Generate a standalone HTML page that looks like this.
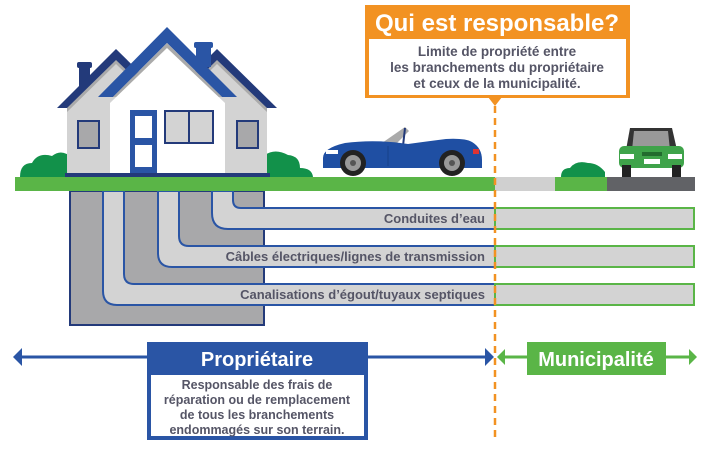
<!DOCTYPE html>
<html><head><meta charset="utf-8"><style>
html,body{margin:0;padding:0;background:#fff}
svg{display:block}
text{font-family:"Liberation Sans",sans-serif;font-weight:bold}
</style></head><body>
<svg width="710" height="450" viewBox="0 0 710 450" xmlns="http://www.w3.org/2000/svg">
<rect x="70" y="191" width="194" height="134" fill="#a8a8aa" stroke="#233a7a" stroke-width="2"/>
<g fill="#d3d3d3" stroke="#2a55a5" stroke-width="2">
<path d="M233 191 V200 Q233 208 241 208 H495 V229 H228 Q212 229 212 213 V191 Z"/>
<path d="M179 191 V236 Q179 246 189 246 H495 V267 H172 Q158 267 158 253 V191 Z"/>
<path d="M124 191 V274 Q124 284 134 284 H495 V305 H117 Q103 305 103 291 V191 Z"/>
</g>
<g fill="#d3d3d3" stroke="#5ab547" stroke-width="2">
<rect x="495" y="208" width="199" height="21"/>
<rect x="495" y="246" width="199" height="21"/>
<rect x="495" y="284" width="199" height="21"/>
</g>
<g fill="#555566" font-size="13" text-anchor="end">
<text x="485" y="223">Conduites d’eau</text>
<text x="485" y="261">Câbles électriques/lignes de transmission</text>
<text x="485" y="299">Canalisations d’égout/tuyaux septiques</text>
</g>
<rect x="15" y="177" width="480" height="14" fill="#5ab547"/>
<rect x="495" y="177" width="60" height="14" fill="#d0d0d0"/>
<rect x="555" y="177" width="52" height="14" fill="#5ab547"/>
<rect x="607" y="177" width="88" height="14" fill="#616266"/>
<g fill="#12914a">
<path d="M20 177 Q20 163 32 163 Q38 152 52 156 Q62 148 72 158 L72 177 Z"/>
<path d="M265 177 V155 Q275 148 288 155 Q300 156 300 168 Q312 168 313 177 Z"/>
<path d="M561 177 Q561 168 570 168 Q576 160 588 163 Q598 163 605 172 V177 Z"/>
</g>
<!-- house -->
<rect x="79" y="62" width="11" height="30" fill="#233a7a"/><rect x="77" y="62" width="15" height="6" rx="2" fill="#233a7a"/>
<polygon points="57,108 116,49 176,108" fill="#233a7a"/>
<polygon points="158,108 217,49 277,108" fill="#233a7a"/>
<polygon points="67,108 116,60 166,108 166,175 67,175" fill="#aaaaaa"/>
<polygon points="67,112 116,64 166,112 166,175 67,175" fill="#d3d3d3"/>
<polygon points="168,108 217,60 267,108 267,175 168,175" fill="#aaaaaa"/>
<polygon points="168,112 217,64 267,112 267,175 168,175" fill="#d3d3d3"/>
<rect x="196" y="42" width="15" height="25" fill="#2a55a5"/><rect x="194" y="42" width="19" height="6" rx="2" fill="#2a55a5"/>
<polygon points="98,97 167,27 237,97 222,97 167,43 113,97" fill="#2a55a5"/>
<polygon points="113,97 167,43 222,97" fill="#aaaaaa"/>
<polygon points="110,103 167,48 225,103 225,175 110,175" fill="#fff"/>
<rect x="65" y="173" width="205" height="4" fill="#233a7a"/>
<rect x="130" y="110" width="27" height="63" fill="#2a55a5"/>
<rect x="135" y="116" width="17" height="22" fill="#fff"/><rect x="135" y="145" width="17" height="22" fill="#fff"/>
<rect x="165" y="111" width="48" height="32" fill="#d3d3d3" stroke="#233a7a" stroke-width="2"/>
<line x1="189" y1="111" x2="189" y2="143" stroke="#233a7a" stroke-width="2"/>
<rect x="78" y="121" width="21" height="27" fill="#a8a8aa" stroke="#233a7a" stroke-width="2"/>
<rect x="237" y="121" width="21" height="27" fill="#a8a8aa" stroke="#233a7a" stroke-width="2"/>
<!-- blue car -->
<polygon points="382,143 405,127 409,131 395,145" fill="#aaaaaa"/>
<line x1="405" y1="128" x2="403" y2="146" stroke="#233a7a" stroke-width="2"/>
<path d="M323 158 Q323 148 345 143 Q375 139 408 144 Q430 141 446 139 Q465 138 472 142 Q482 148 482 160 L482 168 H323 Z" fill="#1f4fa3"/>
<line x1="388" y1="146" x2="388" y2="166" stroke="#17408a" stroke-width="1"/>
<rect x="326" y="150" width="12" height="4" fill="#fff"/>
<rect x="473" y="149" width="6" height="5" fill="#d33"/>
<g><circle cx="353" cy="163" r="13" fill="#222"/><circle cx="353" cy="163" r="8" fill="#999"/><circle cx="353" cy="163" r="3" fill="#555"/>
<circle cx="452" cy="163" r="13" fill="#222"/><circle cx="452" cy="163" r="8" fill="#999"/><circle cx="452" cy="163" r="3" fill="#555"/></g>
<!-- green car -->
<path d="M626 150 L630 128 H672 L677 150 Z" fill="#333"/>
<path d="M632 150 L634 131 H668 L670 150 Z" fill="#999"/>
<rect x="619" y="146" width="65" height="22" rx="5" fill="#3fa34a"/>
<rect x="620" y="154" width="14" height="5" fill="#fff"/><rect x="668" y="154" width="14" height="5" fill="#fff"/>
<rect x="642" y="152" width="20" height="4" fill="#226b2e"/>
<rect x="644" y="159" width="16" height="5" fill="#fff"/>
<rect x="622" y="165" width="9" height="12" fill="#222"/><rect x="672" y="165" width="9" height="12" fill="#222"/>
<!-- top box -->
<rect x="365" y="5" width="265" height="93" fill="#f29222"/>
<rect x="369" y="39" width="257" height="56" fill="#fff"/>
<polygon points="488,97 502,97 495,106" fill="#f29222"/>
<text x="497" y="31" font-size="24" fill="#fff" text-anchor="middle">Qui est responsable?</text>
<g font-size="13.5" fill="#555566" text-anchor="middle">
<text x="497" y="56">Limite de propriété entre</text>
<text x="497" y="72">les branchements du propriétaire</text>
<text x="497" y="88">et ceux de la municipalité.</text>
</g>
<line x1="495" y1="106" x2="495" y2="442" stroke="#f29222" stroke-width="2.5" stroke-dasharray="7,5"/>
<line x1="20" y1="357" x2="488" y2="357" stroke="#2a55a5" stroke-width="3"/>
<polygon points="13,357 22,348 22,366" fill="#2a55a5"/>
<polygon points="494,357 485,348 485,366" fill="#2a55a5"/>
<line x1="504" y1="357" x2="690" y2="357" stroke="#5ab547" stroke-width="3"/>
<polygon points="497,357 505,349 505,365" fill="#5ab547"/>
<polygon points="697,357 689,349 689,365" fill="#5ab547"/>
<rect x="147" y="342" width="221" height="98" fill="#2a55a5"/>
<rect x="151" y="375" width="213" height="61" fill="#fff"/>
<text x="257" y="366" font-size="20" fill="#fff" text-anchor="middle">Propriétaire</text>
<g font-size="12.5" fill="#555566" text-anchor="middle">
<text x="257" y="389">Responsable des frais de</text>
<text x="257" y="404">réparation ou de remplacement</text>
<text x="257" y="419">de tous les branchements</text>
<text x="257" y="434">endommagés sur son terrain.</text>
</g>
<rect x="527" y="342" width="139" height="33" fill="#5ab547"/>
<text x="596" y="366" font-size="20" fill="#fff" text-anchor="middle">Municipalité</text>
</svg>
</body></html>
